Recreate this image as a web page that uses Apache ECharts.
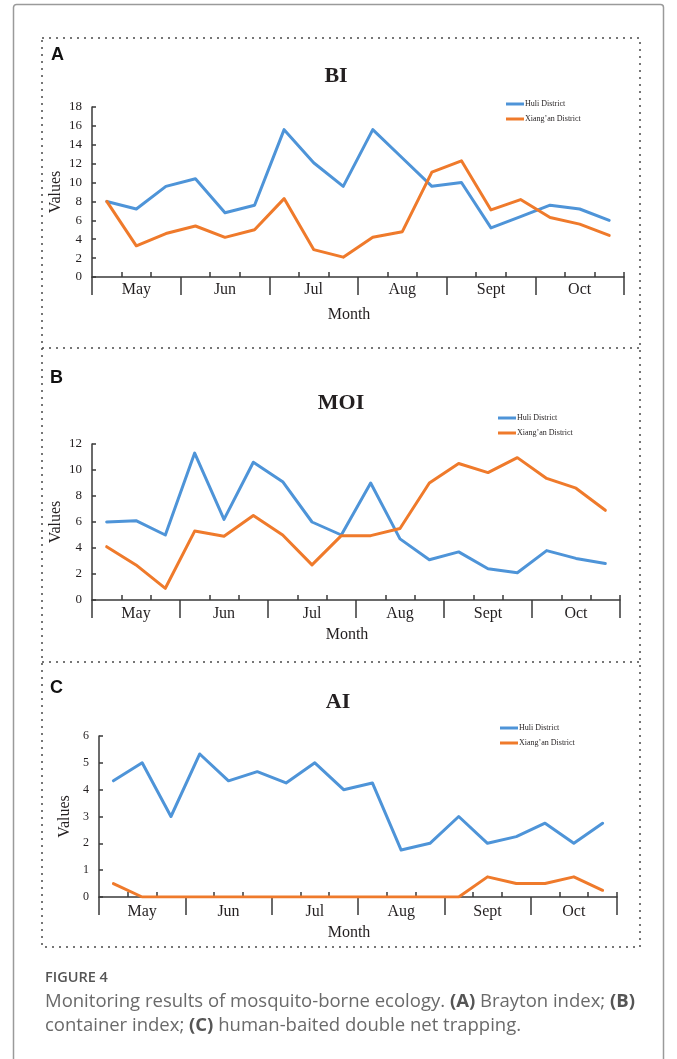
<!DOCTYPE html>
<html>
<head>
<meta charset="utf-8">
<script src="https://cdn.jsdelivr.net/npm/echarts@6/dist/echarts.min.js"></script>
<style>
html,body{margin:0;padding:0;background:#fff;}
#chart{width:677px;height:1059px;}
</style>
</head>
<body>
<div id="chart"></div>
<script>
// ---- data ----
const months = ['May', 'Jun', 'Jul', 'Aug', 'Sept', 'Oct'];
const periods = ['May-1','May-2','May-3','Jun-1','Jun-2','Jun-3','Jul-1','Jul-2','Jul-3',
                 'Aug-1','Aug-2','Aug-3','Sept-1','Sept-2','Sept-3','Oct-1','Oct-2','Oct-3'];
const seriesNames = ['Huli District', 'Xiang\u2019an District'];

const biHuli    = [8.0, 7.2, 9.6, 10.4, 6.8, 7.6, 15.6, 12.1, 9.6, 15.6, 12.6, 9.6, 10.0, 5.2, 6.4, 7.6, 7.2, 6.0];
const biXiang   = [8.0, 3.3, 4.6, 5.4, 4.2, 5.0, 8.3, 2.9, 2.1, 4.2, 4.8, 11.1, 12.3, 7.1, 8.2, 6.3, 5.6, 4.4];
const moiHuli   = [6.0, 6.1, 5.0, 11.3, 6.2, 10.6, 9.1, 6.0, 5.0, 9.0, 4.7, 3.1, 3.7, 2.4, 2.1, 3.8, 3.2, 2.8];
const moiXiang  = [4.1, 2.7, 0.9, 5.3, 4.9, 6.5, 5.0, 2.7, 4.95, 4.95, 5.5, 9.0, 10.5, 9.8, 10.95, 9.35, 8.6, 6.9];
const aiHuli    = [4.33, 5.0, 3.0, 5.33, 4.33, 4.67, 4.25, 5.0, 4.0, 4.25, 1.75, 2.0, 3.0, 2.0, 2.25, 2.75, 2.0, 2.75];
const aiXiang   = [0.5, 0, 0, 0, 0, 0, 0, 0, 0, 0, 0, 0, 0, 0.75, 0.5, 0.5, 0.75, 0.25];

const panelTitles = ['BI', 'MOI', 'AI'];
const panelLetters = ['A', 'B', 'C'];

// ---- styling / layout ----
const BLUE = '#4E94D8', ORANGE = '#EF7A2B', AX = '#3a3a3a', TXT = '#231f20';
const SERIF = '"Liberation Serif", "Times New Roman", serif';
const panels = [
  {grid:{left:92, top:107, width:532, height:170}, max:18, interval:2, lblSize:13, monthMargin:5, nameGap:30, yNameGap:28,
   data:[biHuli, biXiang], title:{x:336, y:76}, letter:{x:51, y:55}, legend:{left:506, top:99}},
  {grid:{left:92, top:444, width:528, height:156}, max:12, interval:2, lblSize:13, monthMargin:6, nameGap:27, yNameGap:28,
   data:[moiHuli, moiXiang], title:{x:341, y:403}, letter:{x:50, y:378}, legend:{left:498, top:413}},
  {grid:{left:99, top:736, width:518, height:161}, max:6, interval:1, lblSize:12, monthMargin:7, nameGap:28, yNameGap:26,
   data:[aiHuli, aiXiang], title:{x:338, y:702}, letter:{x:50, y:688}, legend:{left:500, top:723}}
];

const grid = [], xAxis = [], yAxis = [], series = [], legend = [], graphic = [];
panels.forEach((p, i) => {
  grid.push(Object.assign({outerBoundsMode:'none', containLabel:false}, p.grid));
  // fine axis: 18 sampling periods, small inward ticks inside each month
  xAxis.push({
    type:'category', gridIndex:i, data:periods, position:'bottom',
    axisLine:{show:true, lineStyle:{color:AX, width:1.5}},
    axisTick:{show:true, inside:true, length:5, lineStyle:{color:AX, width:1.5},
              interval:(idx) => idx % 3 !== 0},
    axisLabel:{show:false}, splitLine:{show:false}
  });
  // month axis: long outward ticks at month boundaries and month labels
  xAxis.push({
    type:'category', gridIndex:i, data:months, position:'bottom', offset:0,
    axisLine:{show:false},
    axisTick:{show:true, inside:false, length:18, interval:0, lineStyle:{color:AX, width:1.5}},
    axisLabel:{show:true, interval:0, margin:p.monthMargin, fontFamily:SERIF, fontSize:16, color:TXT},
    name:'Month', nameLocation:'middle', nameGap:p.nameGap, nameMoveOverlap:false,
    nameTextStyle:{fontFamily:SERIF, fontSize:16, color:TXT, padding:[0,18,0,0]},
    splitLine:{show:false}
  });
  yAxis.push({
    type:'value', gridIndex:i, min:0, max:p.max, interval:p.interval,
    axisLine:{show:true, lineStyle:{color:AX, width:1.5}},
    axisTick:{show:true, inside:true, length:4, lineStyle:{color:AX, width:1.5}},
    axisLabel:{fontFamily:SERIF, fontSize:p.lblSize, color:TXT, margin:10},
    splitLine:{show:false},
    name:'Values', nameLocation:'middle', nameRotate:90, nameGap:p.yNameGap, nameMoveOverlap:false,
    nameTextStyle:{fontFamily:SERIF, fontSize:16, color:TXT}
  });
  [BLUE, ORANGE].forEach((c, k) => {
    series.push({
      type:'line', name:seriesNames[k], xAxisIndex:i*2, yAxisIndex:i,
      data:p.data[k], symbol:'none', showSymbol:false, smooth:false,
      lineStyle:{color:c, width:3, cap:'round', join:'round'}, itemStyle:{color:c},
      emphasis:{disabled:true}, silent:true, animation:false
    });
  });
  legend.push({
    show:true, orient:'vertical', left:p.legend.left, top:p.legend.top, padding:0,
    data:seriesNames, icon:'rect', itemWidth:18, itemHeight:3, itemGap:5,
    selectedMode:false,
    textStyle:{fontFamily:SERIF, fontSize:8, color:TXT, lineHeight:10, padding:[0,0,0,-4]}
  });
  graphic.push({type:'text', x:p.title.x, y:p.title.y, silent:true,
    style:{text:panelTitles[i], fontFamily:SERIF, fontWeight:'bold', fontSize:22, fill:TXT,
           textAlign:'center', textVerticalAlign:'middle'}});
  graphic.push({type:'text', x:p.letter.x, y:p.letter.y, silent:true,
    style:{text:panelLetters[i], fontFamily:'"Liberation Sans", Arial, sans-serif', fontWeight:'bold', fontSize:18, fill:'#111',
           textAlign:'left', textVerticalAlign:'middle'}});
});

// frames
const DOT = {stroke:'#4a4a4a', lineWidth:1.5, lineDash:[2,5], fill:null};
graphic.push({type:'rect', silent:true, z:-1, shape:{x:13.5, y:4.5, width:650, height:1080, r:3},
  style:{stroke:'#9a9a9a', lineWidth:1.5, fill:null}});
graphic.push({type:'rect', silent:true, shape:{x:42, y:38, width:598, height:909}, style:DOT});
graphic.push({type:'line', silent:true, shape:{x1:42, y1:348, x2:640, y2:348}, style:DOT});
graphic.push({type:'line', silent:true, shape:{x1:42, y1:662, x2:640, y2:662}, style:DOT});
// caption
const CAP = '"Open Sans", sans-serif';
graphic.push({type:'text', x:45, y:978, silent:true,
  style:{text:'FIGURE 4', fontFamily:CAP, fontWeight:600, fontSize:14.5, fill:'#555',
         textVerticalAlign:'middle'}});
graphic.push({type:'text', x:45, y:1002, silent:true,
  style:{text:'Monitoring results of mosquito-borne ecology. {b|(A)} Brayton index; {b|(B)}',
         fontFamily:CAP, fontSize:18.5, fill:'#6a6a6a', textVerticalAlign:'middle',
         rich:{b:{fontFamily:CAP, fontSize:18.5, fontWeight:'bold', fill:'#555'}}}});
graphic.push({type:'text', x:45, y:1026, silent:true,
  style:{text:'container index; {b|(C)} human-baited double net trapping.',
         fontFamily:CAP, fontSize:18.5, fill:'#6a6a6a', textVerticalAlign:'middle',
         rich:{b:{fontFamily:CAP, fontSize:18.5, fontWeight:'bold', fill:'#555'}}}});

const chart = echarts.init(document.getElementById('chart'), null, {renderer:'canvas'});
chart.setOption({
  animation:false, backgroundColor:'#fff',
  grid, xAxis, yAxis, series, legend, graphic
});
</script>
</body>
</html>
